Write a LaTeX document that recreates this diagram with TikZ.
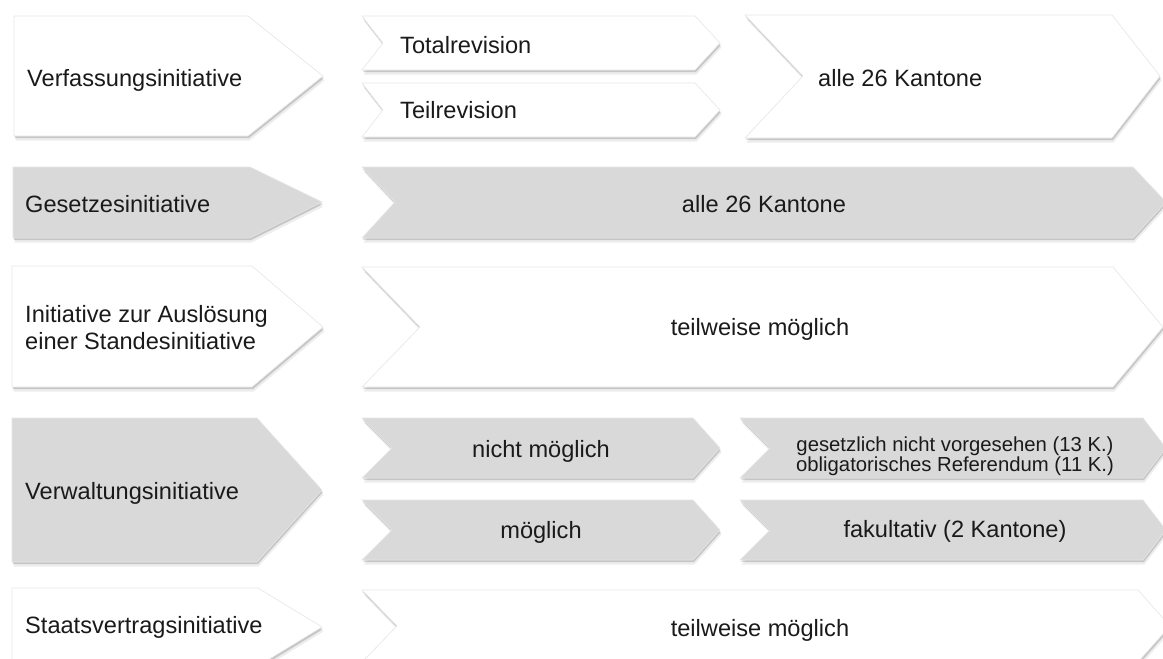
\documentclass[tikz,border=0pt]{standalone}
\usepackage{fontspec}
\setmainfont{Liberation Sans}
\definecolor{boxgray}{HTML}{D9D9D9}
\definecolor{txt}{HTML}{1A1A1A}
\definecolor{edge}{HTML}{E6E6E6}
\newcommand{\chev}[8]{%
  \fill[black,opacity=.07,shift={(1.5,4.5)}] (#2,#3) -- (#4,#3) -- (#7,#8) -- (#4,#5) -- (#2,#5) -- ({#2+#6},#8) -- cycle;
  \fill[black,opacity=.16,shift={(0.8,2.2)}] (#2,#3) -- (#4,#3) -- (#7,#8) -- (#4,#5) -- (#2,#5) -- ({#2+#6},#8) -- cycle;
  \path[#1] (#2,#3) -- (#4,#3) -- (#7,#8) -- (#4,#5) -- (#2,#5) -- ({#2+#6},#8) -- cycle;
}
\begin{document}
\begin{tikzpicture}[x=1pt,y=-1pt,
  wbox/.style={fill=white,draw=edge,line width=.6pt},
  gbox/.style={fill=boxgray,draw=edge,line width=.6pt},
  lbl/.style={font=\fontsize{23.6}{27}\selectfont,text=txt,inner sep=0pt},
  small/.style={font=\fontsize{20.3}{18.5}\selectfont,text=txt,inner sep=0pt,align=center}]
\useasboundingbox[fill=white] (0,0) rectangle (1163,659);
% row 1
\chev{wbox}{14}{16}{248}{136}{0}{323}{76}
\chev{wbox}{362}{16}{695}{70}{21}{720}{43}
\chev{wbox}{362}{83}{695}{137}{21}{720}{110}
\chev{wbox}{745}{15}{1112}{138}{58}{1160}{76}
% row 2
\chev{gbox}{13}{167}{250}{238}{0}{322}{202}
\chev{gbox}{362}{167}{1133}{238}{33}{1166}{202}
% row 3
\chev{wbox}{12}{266}{252}{387}{0}{323}{327}
\chev{wbox}{362}{267}{1113}{387}{58}{1163}{327}
% row 4
\chev{gbox}{12}{418}{257}{562}{0}{322}{490}
\chev{gbox}{362}{418}{693}{478}{30}{720}{448}
\chev{gbox}{362}{500}{693}{560}{30}{720}{530}
\chev{gbox}{740}{418}{1143}{478}{30}{1166}{448}
\chev{gbox}{740}{500}{1143}{560}{30}{1166}{530}
% row 5
\chev{wbox}{12}{588}{258}{666}{0}{322}{627}
\chev{wbox}{362}{590}{1138}{662}{35}{1170}{626}
% texts
\node[lbl,anchor=base west] (verf) at (27,86) {Verfassungsinitiative};
\node[lbl,anchor=base west] (total) at (400,53) {Totalrevision};
\node[lbl,anchor=base west] (teil) at (400,118) {Teilrevision};
\node[lbl,anchor=base west] (k1) at (818,86) {alle 26 Kantone};
\node[lbl,anchor=base west] (ges) at (25,212) {Gesetzesinitiative};
\node[lbl,anchor=base] (k2) at (764,212) {alle 26 Kantone};
\node[lbl,anchor=base west,align=left] (stand) at (25,349) {Initiative zur Auslösung\\einer Standesinitiative};
\node[lbl,anchor=base] (tm1) at (760,335) {teilweise möglich};
\node[lbl,anchor=base west] (verw) at (25,499) {Verwaltungsinitiative};
\node[lbl,anchor=base] (nm) at (541,457) {nicht möglich};
\node[lbl,anchor=base] (m) at (541,538) {möglich};
\node[small,anchor=base] (ges13) at (955,471) {gesetzlich nicht vorgesehen (13 K.)\\obligatorisches Referendum (11 K.)};
\node[lbl,anchor=base] (fak) at (955,537) {fakultativ (2 Kantone)};
\node[lbl,anchor=base west] (staat) at (25,633) {Staatsvertragsinitiative};
\node[lbl,anchor=base] (tm2) at (760,636) {teilweise möglich};
\end{tikzpicture}
\end{document}
